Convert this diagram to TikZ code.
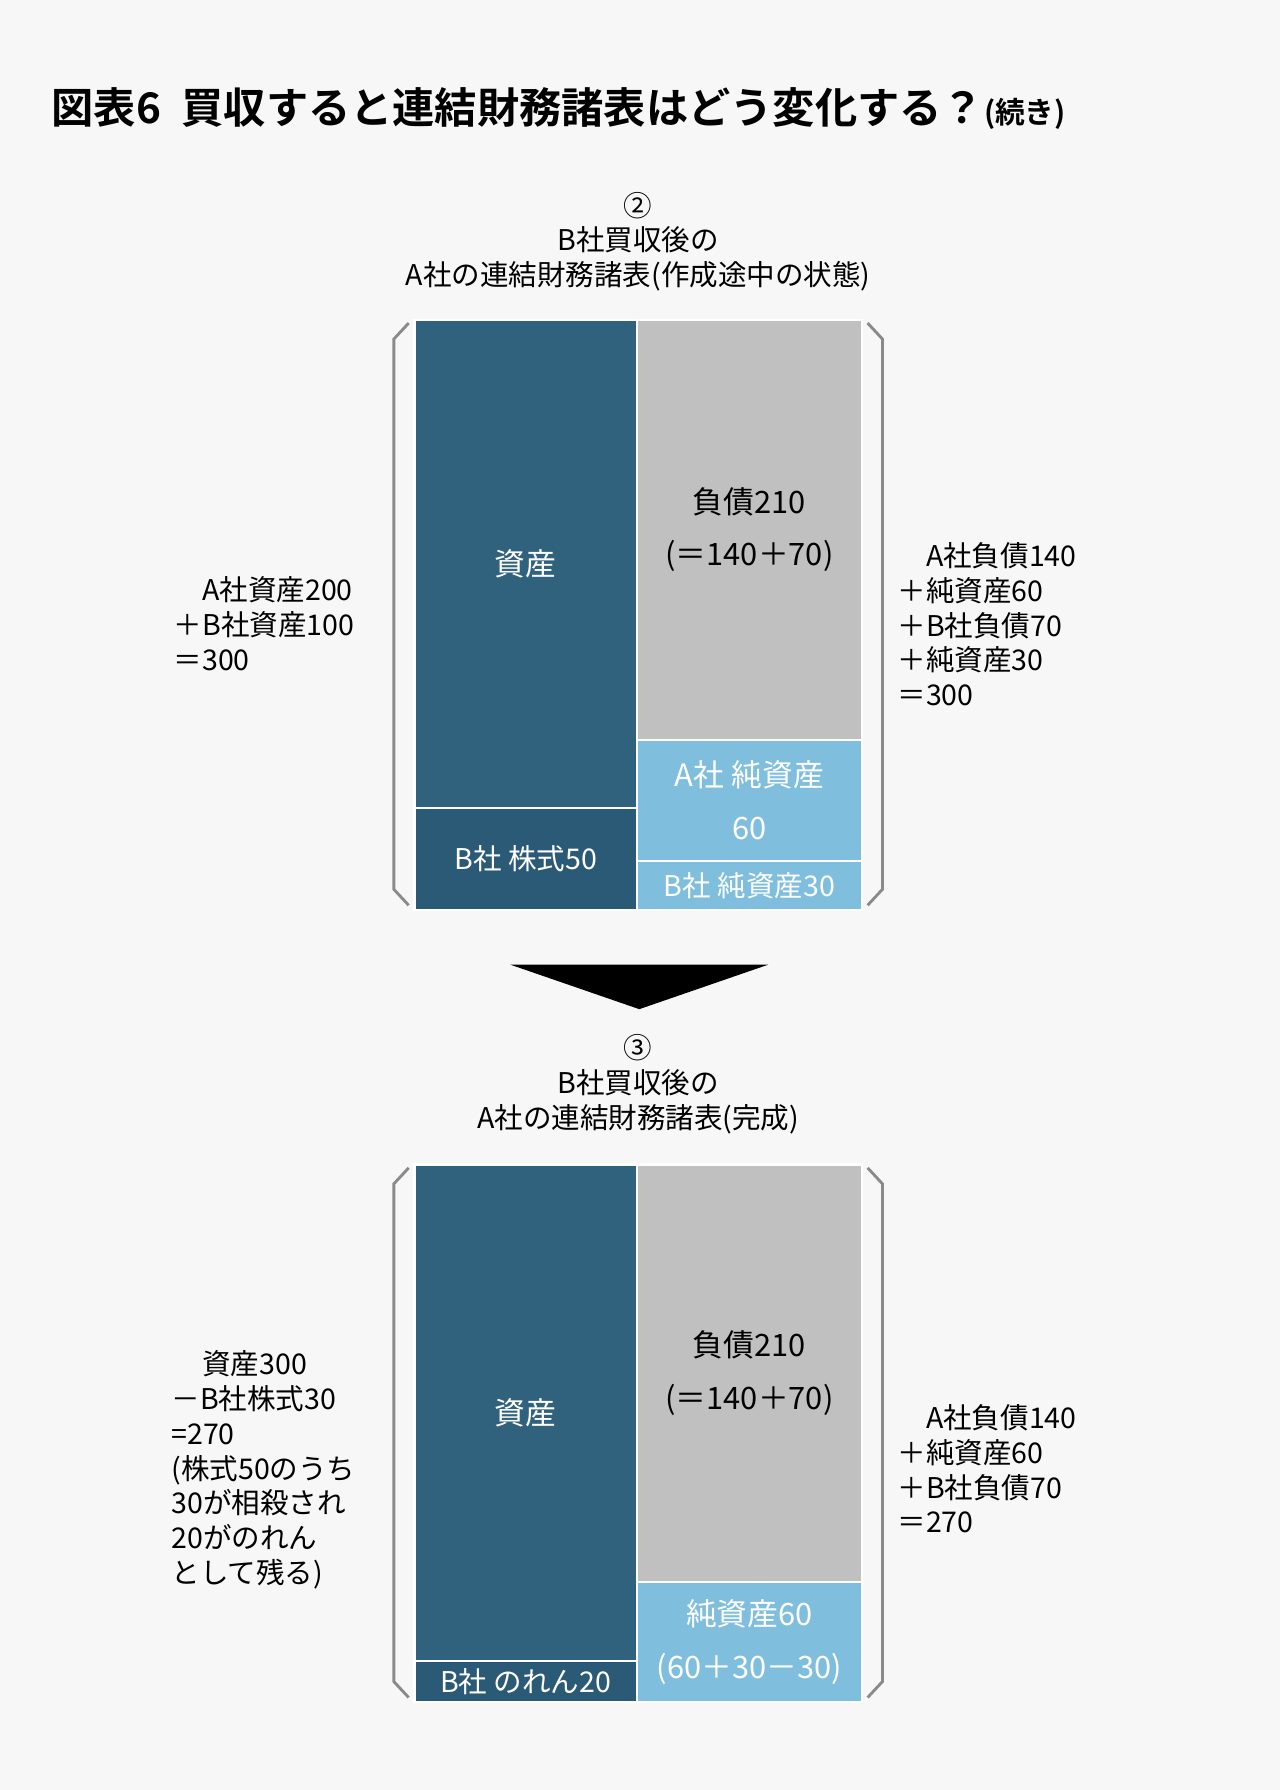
\documentclass[tikz,border=0pt]{standalone}
\usepackage{fontspec}
\setmainfont{Noto Sans CJK JP}
\newfontfamily\boldjp{Noto Sans CJK JP Bold}
\definecolor{bg}{HTML}{F7F7F7}
\definecolor{dblue}{HTML}{30617D}
\definecolor{ddblue}{HTML}{2B5A76}
\definecolor{gry}{HTML}{C0C0C0}
\definecolor{lblue}{HTML}{7FBFDD}
\definecolor{brk}{HTML}{8A8A8A}
\tikzset{
 cell/.style={draw=white,line width=2pt},
 lab/.style={font=\fontsize{25}{30.5}\selectfont,text=black,inner sep=0pt},
 wlab/.style={font=\fontsize{27}{46}\selectfont,text=white,inner sep=0pt,align=center},
 blab/.style={font=\fontsize{27}{46}\selectfont,text=black,inner sep=0pt,align=center},
 brack/.style={draw=brk,line width=2.5pt}
}
\begin{document}
\begin{tikzpicture}[x=1pt,y=-1pt]
\fill[bg] (0,0) rectangle (1121,1568);
\useasboundingbox (0,0) rectangle (1121,1568);
\node[anchor=west,inner sep=0pt,font=\boldjp\fontsize{37}{40}\selectfont] (title) at (45,95) {図表6\hspace{18pt}買収すると連結財務諸表はどう変化する？{\fontsize{26}{30}\selectfont (続き)}};
% top heading
\node[lab,align=center,anchor=north] (h1) at (559,168) {②\\B社買収後の\\A社の連結財務諸表(作成途中の状態)};
% top block
\path[cell,fill=dblue] (363,280) rectangle (558,708) node[midway,wlab] (a1) {資産};
\path[cell,fill=ddblue] (363,708) rectangle (558,797) node[midway,wlab,font=\fontsize{25}{30}\selectfont] (a2) {B社 株式50};
\path[cell,fill=gry] (558,280) rectangle (755,648) node[midway,blab] (l1) {負債210\\(＝140＋70)};
\path[cell,fill=lblue] (558,648) rectangle (755,754) node[midway,wlab] (l2) {A社 純資産\\60};
\path[cell,fill=lblue] (558,754) rectangle (755,797) node[midway,wlab,font=\fontsize{25}{30}\selectfont] (l3) {B社 純資産30};
\draw[brack] (358,283) -- (345,297) -- (345,779) -- (358,793);
\draw[brack] (760,283) -- (773,297) -- (773,779) -- (760,793);
\node[lab,align=left,anchor=north west] (lt1) at (152,505) {\hspace{25pt}A社資産200\\＋B社資産100\\＝300};
\node[lab,align=left,anchor=north west] (rt1) at (786,475) {\hspace{25pt}A社負債140\\＋純資産60\\＋B社負債70\\＋純資産30\\＝300};
% arrow
\fill[black] (447,845) -- (673,845) -- (560,884) -- cycle;
% bottom heading
\node[lab,align=center,anchor=north] (h2) at (559,906) {③\\B社買収後の\\A社の連結財務諸表(完成)};
\path[cell,fill=dblue] (363,1020) rectangle (558,1455) node[midway,wlab] (b1) {資産};
\path[cell,fill=ddblue] (363,1455) rectangle (558,1491) node[midway,wlab,font=\fontsize{25}{30}\selectfont] (b2) {B社 のれん20};
\path[cell,fill=gry] (558,1020) rectangle (755,1386) node[midway,blab] (m1) {負債210\\(＝140＋70)};
\path[cell,fill=lblue] (558,1386) rectangle (755,1491) node[midway,wlab] (m2) {純資産60\\(60＋30－30)};
\draw[brack] (358,1023) -- (345,1037) -- (345,1473) -- (358,1487);
\draw[brack] (760,1023) -- (773,1037) -- (773,1473) -- (760,1487);
\node[lab,align=left,anchor=north west] (lt2) at (150,1183) {\hspace{27pt}資産300\\－B社株式30\\=270\\(株式50のうち\\30が相殺され\\20がのれん\\として残る)};
\node[lab,align=left,anchor=north west] (rt2) at (786,1230) {\hspace{25pt}A社負債140\\＋純資産60\\＋B社負債70\\＝270};
\end{tikzpicture}
\end{document}
